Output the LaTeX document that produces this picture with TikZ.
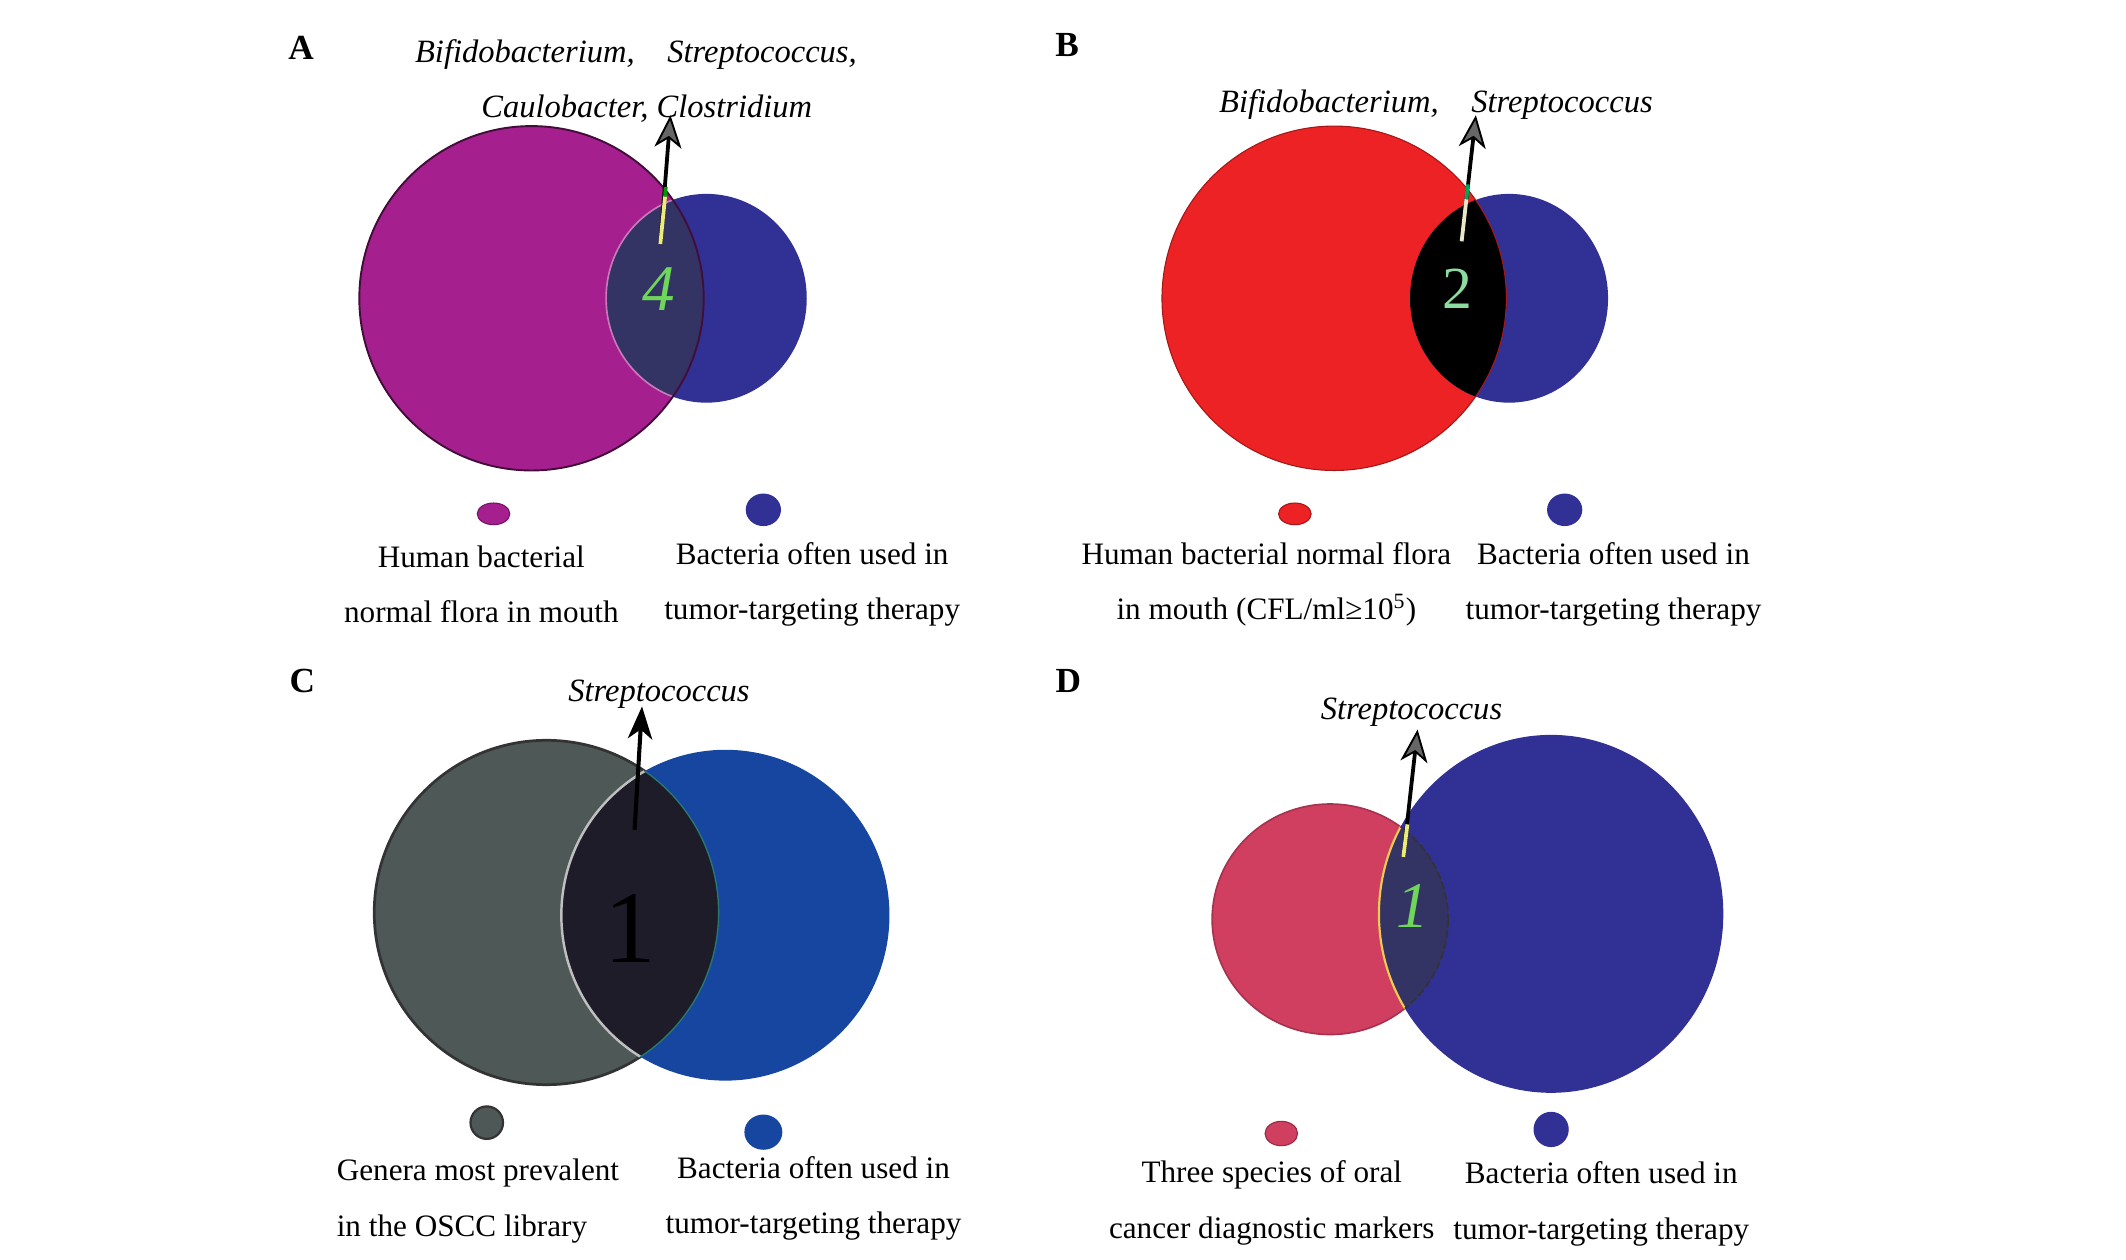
\documentclass[tikz,border=0pt]{standalone}
\usepackage{fontspec}
\setmainfont{Liberation Serif}
\usetikzlibrary{arrows.meta}
\definecolor{purpA}{RGB}{165,32,142}
\definecolor{navy}{RGB}{49,49,149}
\definecolor{ovNavy}{RGB}{52,52,100}
\definecolor{redB}{RGB}{236,34,36}
\definecolor{grayC}{RGB}{77,88,87}
\definecolor{blueC}{RGB}{22,70,160}
\definecolor{ovC}{RGB}{30,28,40}
\definecolor{pinkD}{RGB}{208,62,96}
\definecolor{numGreen}{RGB}{110,215,90}
\definecolor{numGreenB}{RGB}{140,220,160}
\definecolor{yel}{RGB}{235,235,120}
\definecolor{cream}{RGB}{235,230,200}
\definecolor{tealC}{RGB}{40,120,110}
\tikzset{
  panel/.style={font=\bfseries\fontsize{13}{13}\selectfont},
  genus/.style={font=\itshape\fontsize{12}{12}\selectfont, inner sep=0pt},
  legend/.style={font=\fontsize{11.5}{20.5}\selectfont, align=center, inner sep=0pt},
  pointer/.style={line width=1.4pt, -{Stealth[length=12pt,width=10pt,inset=3.5pt,fill=black!60,color=black,line width=0.7pt]}},
  dot/.style={line width=0.4pt},
  count/.style={font=\fontsize{22}{22}\selectfont}
}
\begin{document}
\begin{tikzpicture}[x=0.5pt,y=-0.5pt]
\useasboundingbox (0,0) rectangle (1568,929);
\fill[white] (0,0) rectangle (1568,929);

% ---------------- Panel A ----------------
\node[panel] (pA) at (222,35) {A};
\node[genus] (tA1) at (469,40) {Bifidobacterium,\quad Streptococcus,};
\node[genus] (tA2) at (477,80) {Caulobacter, Clostridium};
\fill[purpA] (392,220) ellipse [x radius=127, y radius=127];
\fill[navy] (521,220) ellipse [x radius=74, y radius=77];
\begin{scope}
  \clip (392,220) ellipse [x radius=127, y radius=127];
  \fill[ovNavy] (521,220) ellipse [x radius=74, y radius=77];
  \draw[purpA!60!white, line width=0.6pt] (521,220) ellipse [x radius=74, y radius=77];
\end{scope}
\draw[black!60!purpA, line width=0.7pt] (392,220) ellipse [x radius=127, y radius=127];
\node[count, text=numGreen, font=\itshape\fontsize{24}{24}\selectfont] (nA) at (486,213) {4};
\coordinate (sA) at (487,180);
\coordinate (mA) at (490.5,145);
\coordinate (gA) at (491,138);
\coordinate (eA) at (494.5,85);
\draw[pointer] (sA) -- (eA);
\draw[green!60!black, line width=1.4pt] (mA) -- (gA);
\draw[yel, line width=1.4pt] (sA) -- (mA);
\fill[purpA, draw=purpA!70!black, dot] (364,379) ellipse [x radius=12, y radius=8];
\fill[navy, dot] (563,376) ellipse [x radius=13, y radius=12];
\node[legend] (lA1) at (355,431) {Human bacterial\\normal flora in mouth};
\node[legend] (lA2) at (599,431) {Bacteria often used in\\tumor-targeting therapy};

% ---------------- Panel B ----------------
\node[panel] (pB) at (787,33) {B};
\node[genus] (tB1) at (1059,77) {Bifidobacterium,\quad Streptococcus};
\fill[redB] (984,220) ellipse [x radius=127, y radius=127];
\fill[navy] (1113,220) ellipse [x radius=73, y radius=77];
\begin{scope}
  \clip (984,220) ellipse [x radius=127, y radius=127];
  \fill[black] (1113,220) ellipse [x radius=73, y radius=77];
\end{scope}
\draw[redB!70!black, line width=0.4pt] (984,220) ellipse [x radius=127, y radius=127];
\node[count, text=numGreenB] (nB) at (1075,213) {2};
\coordinate (sB) at (1078,178);
\coordinate (mB) at (1081.5,147);
\coordinate (gB) at (1082.5,136);
\coordinate (eB) at (1088.5,85);
\draw[pointer] (sB) -- (eB);
\draw[teal!70!green, line width=1.4pt] (mB) -- (gB);
\draw[cream, line width=1.4pt] (sB) -- (mB);
\fill[redB, draw=redB!70!black, dot] (955,379) ellipse [x radius=12, y radius=8];
\fill[navy, dot] (1154,376) ellipse [x radius=13, y radius=12];
\node[legend] (lB1) at (934,431) {Human bacterial normal flora\\in mouth (CFL/ml≥10\textsuperscript{5})};
\node[legend] (lB2) at (1190,431) {Bacteria often used in\\tumor-targeting therapy};

% ---------------- Panel C ----------------
\node[panel] (pC) at (223,502) {C};
\node[genus] (tC) at (486,512) {Streptococcus};
\fill[grayC, draw=black!80, line width=1pt] (403,673) ellipse [x radius=127, y radius=127];
\fill[blueC] (535,675) ellipse [x radius=121, y radius=122];
\begin{scope}
  \clip (403,673) ellipse [x radius=127, y radius=127];
  \fill[ovC] (535,675) ellipse [x radius=121, y radius=122];
  \draw[gray!50, line width=0.9pt] (535,675) ellipse [x radius=121, y radius=122];
\end{scope}
\begin{scope}
  \clip (535,675) ellipse [x radius=121, y radius=122];
  \draw[tealC, line width=0.5pt] (403,673) ellipse [x radius=127, y radius=127];
\end{scope}
\node[text=black, font=\fontsize{38}{38}\selectfont] (nC) at (465,685) {1};
\coordinate (sC) at (468,612);
\coordinate (eC) at (473.5,521);
\draw[line width=1.5pt, -{Stealth[length=12pt,width=9pt,inset=3.5pt]}] (sC) -- (eC);
\fill[grayC, draw=black!80, line width=0.8pt] (359,828) ellipse [x radius=12, y radius=12];
\fill[blueC] (563,835) ellipse [x radius=14, y radius=13];
\node[legend, align=left, anchor=west] (lC1) at (248,886) {Genera most prevalent\\in the OSCC library};
\node[legend] (lC2) at (600,884) {Bacteria often used in\\tumor-targeting therapy};

% ---------------- Panel D ----------------
\node[panel] (pD) at (788,502) {D};
\node[genus] (tD) at (1041,525) {Streptococcus};
\fill[pinkD, draw=pinkD!80!black, line width=0.6pt] (981,678) ellipse [x radius=87, y radius=85];
\fill[navy] (1144,674) ellipse [x radius=127, y radius=132];
\begin{scope}
  \clip (981,678) ellipse [x radius=87, y radius=85];
  \fill[ovNavy] (1144,674) ellipse [x radius=127, y radius=132];
  \draw[yel!70!orange, line width=0.8pt] (1144,674) ellipse [x radius=127, y radius=132];
\end{scope}
\begin{scope}
  \clip (1144,674) ellipse [x radius=127, y radius=132];
  \draw[black!80, line width=0.6pt, dash pattern=on 3pt off 1pt] (981,678) ellipse [x radius=87, y radius=85];
\end{scope}
\node[count, text=numGreen, font=\itshape\fontsize{24}{24}\selectfont] (nD) at (1042,668) {1};
\coordinate (sD) at (1035,632);
\coordinate (mD) at (1038,608);
\coordinate (eD) at (1045.5,538);
\draw[pointer] (sD) -- (eD);
\draw[yel, line width=1.4pt] (sD) -- (mD);
\fill[pinkD, draw=pinkD!70!black, dot] (945,836) ellipse [x radius=12, y radius=9];
\fill[navy] (1144,833) ellipse [x radius=13, y radius=13];
\node[legend] (lD1) at (938,887) {Three species of oral\\cancer diagnostic markers};
\node[legend] (lD2) at (1181,888) {Bacteria often used in\\tumor-targeting therapy};
\end{tikzpicture}
\end{document}
